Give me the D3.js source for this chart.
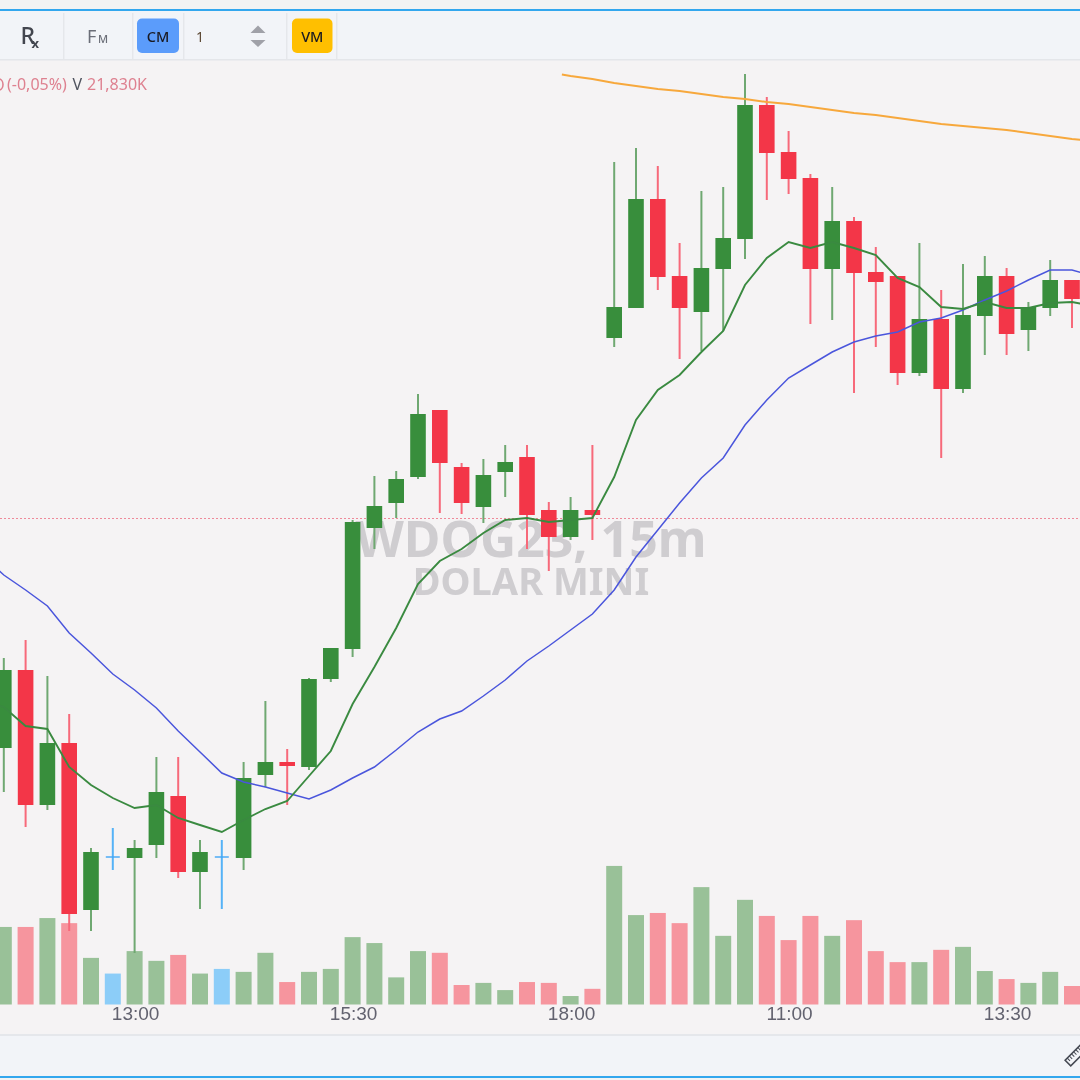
<!DOCTYPE html>
<html>
<head>
<meta charset="utf-8">
<title>WDOG23, 15m</title>
<script src="https://cdn.jsdelivr.net/npm/d3@7"></script>
<style>
  html, body { margin: 0; padding: 0; background: #f5f3f4; overflow: hidden; }
  svg { display: block; font-family: "Noto Sans", "Open Sans", sans-serif; filter: blur(0.45px); }
</style>
</head>
<body>
<div id="chart"></div>
<script>
// 15m bars, two sessions. First and last slot have no visible candle, the averages run through them off screen.
const times = [
  '11:15', '11:30', '11:45', '12:00', '12:15', '12:30', '12:45', '13:00', '13:15', '13:30', '13:45', '14:00', '14:15',
  '14:30', '14:45', '15:00', '15:15', '15:30', '15:45', '16:00', '16:15', '16:30', '16:45', '17:00', '17:15', '17:30',
  '17:45', '18:00', '18:15', '09:00', '09:15', '09:30', '09:45', '10:00', '10:15', '10:30', '10:45', '11:00', '11:15',
  '11:30', '11:45', '12:00', '12:15', '12:30', '12:45', '13:00', '13:15', '13:30', '13:45', '14:00', '14:15', '14:30'
];
const tickSlots = [7, 17, 27, 37, 47];

const opens = [5126, 5165, 5097.5, 5128.5, 5045, 5071.5, 5071, 5077.5, 5102, 5064, 5071.5, 5071, 5112.5, 5119, 5116.5, 5160.5, 5175.5, 5236, 5248.5, 5261.5, 5295, 5266.5, 5246.5, 5264, 5271.5, 5245, 5231.5, 5245, 5331, 5346, 5400.5, 5362, 5344, 5365.5, 5380.5, 5447.5, 5424, 5411, 5365.5, 5389.5, 5364, 5362, 5313.5, 5340.5, 5305.5, 5342, 5362, 5335, 5346, 5360];
const highs = [5171, 5180, 5162, 5143, 5076, 5086, 5080, 5121.5, 5121.5, 5080, 5080, 5119, 5149.5, 5125.5, 5161, 5176, 5240, 5262, 5264.5, 5303, 5295, 5268.5, 5270.5, 5277.5, 5277.5, 5249, 5251.5, 5277.5, 5419, 5426, 5417, 5378.5, 5404.5, 5406.5, 5463, 5451.5, 5434.5, 5413, 5406.5, 5391.5, 5376.5, 5362, 5378.5, 5355, 5368, 5372, 5366, 5349, 5370, 5360];
const lows = [5104, 5086.5, 5095, 5034.5, 5034.5, 5065, 5023.5, 5071, 5061, 5045.5, 5045.5, 5065, 5106.5, 5097.5, 5115, 5159, 5171.5, 5225.5, 5241, 5260.5, 5243.5, 5243, 5238.5, 5251.5, 5225.5, 5214.5, 5230, 5230, 5326.5, 5346, 5355, 5320.5, 5324.5, 5334.5, 5370.5, 5400, 5403, 5338, 5340, 5303.5, 5326.5, 5307.5, 5312, 5271, 5303.5, 5322.5, 5322.5, 5324.5, 5342, 5336];
const closes = [5165, 5097.5, 5128.5, 5043, 5074, 5071.5, 5076, 5104, 5064, 5074, 5071.5, 5111, 5119, 5117, 5160.5, 5176, 5239, 5247, 5260.5, 5293, 5268.5, 5248.5, 5262.5, 5269, 5242.5, 5231.5, 5245, 5242.5, 5346.5, 5400.5, 5361.5, 5346, 5366, 5381, 5447.5, 5423.5, 5410.5, 5365.5, 5389.5, 5363.5, 5359, 5313.5, 5340.5, 5305.5, 5342.5, 5362, 5333, 5346.5, 5360, 5350.5];
const volumes = [91.5, 91.5, 102, 96, 55, 36.5, 63, 51.5, 58.5, 36.5, 42, 38.5, 61, 26.5, 38.5, 42, 79.5, 72.5, 32, 63, 61, 23, 25.5, 17, 26.5, 25.5, 10, 18.5, 163.5, 105.5, 108, 96, 138.5, 81, 123.5, 104.5, 76, 104.5, 81, 99.5, 63, 50, 50, 64.5, 68, 39.5, 30, 25.5, 38.5, 21.83];

const maFast = [5150, 5146.5, 5137, 5135.5, 5116.5, 5107.5, 5101, 5096, 5097.5, 5091, 5087.5, 5084, 5090, 5095.5, 5099.5, 5112, 5124.5, 5148, 5166.5, 5186, 5208, 5219.5, 5225.5, 5233.5, 5240, 5241, 5239, 5240, 5241, 5261.5, 5290, 5305, 5312.5, 5324, 5334.5, 5357.5, 5371, 5379, 5376, 5379, 5376, 5372.5, 5361, 5356.5, 5346.5, 5345.5, 5349, 5346, 5346, 5348.5, 5349, 5347];
const maSlow = [5222.5, 5212.5, 5205, 5197, 5183.5, 5173.5, 5163, 5155, 5146, 5134.5, 5124, 5113.5, 5109, 5106.5, 5103.5, 5100.5, 5105, 5111, 5116.5, 5125, 5134, 5140.5, 5144.5, 5152, 5160, 5169.5, 5177, 5185, 5193, 5205, 5221.5, 5235, 5248.5, 5261, 5271, 5287.5, 5300, 5311, 5317.5, 5324, 5329, 5332, 5334, 5339, 5341, 5345, 5350, 5354.5, 5360, 5365, 5365, 5362];
// long average only starts in the second session, its first point falls between two slots
const maLongSlots = [26.6, 27, 28, 29, 30, 31, 32, 33, 34, 35, 36, 37, 38, 39, 40, 41, 42, 43, 44, 45, 46, 47, 48, 49, 50, 51];
const maLong = [5462.75, 5462, 5460.5, 5458.5, 5457, 5455.5, 5454.5, 5453, 5451.5, 5450.5, 5449, 5448, 5446.5, 5445, 5443.5, 5442.5, 5441, 5439.5, 5438, 5437, 5436, 5435, 5433.5, 5432, 5430.5, 5429.5];
const priceLine = 5240.75;

const statusChange = '(-0,05%)';
const statusVolume = '21,830K';
const watermark = ['WDOG23, 15m', 'DOLAR MINI'];

const W = 1080, H = 1080;
const candles = opens.map((o, i) => ({
  slot: i + 1, o, h: highs[i], l: lows[i], c: closes[i], v: volumes[i],
  dir: closes[i] > o ? 'up' : closes[i] < o ? 'down' : 'flat'
}));

const color = { up: '#388e3c', down: '#f33648', flat: '#42a5f5' };
const wickColor = { up: '#6fa871', down: '#f7697a', flat: '#55b2f7' };
const volColor = { up: '#99c198', down: '#f6959e', flat: '#8ccdf8' };

const x = d3.scaleLinear().domain([0, 51]).range([-18, 1093.8]);
const y = d3.scaleLinear().domain([5500, 4960]).range([0, 1080]);
const yVol = d3.scaleLinear().domain([0, 200]).range([1004.5, 835]);

const svg = d3.select('#chart').append('svg').attr('width', W).attr('height', H);
svg.append('rect').attr('width', W).attr('height', H).attr('fill', '#f5f3f4');

// watermark sits under everything
const wm = svg.append('g').attr('text-anchor', 'middle').attr('font-weight', 700).attr('fill', '#cfcdd0');
wm.append('text').attr('x', 531).attr('y', 557).attr('font-size', 50).text(watermark[0]);
wm.append('text').attr('x', 531).attr('y', 595).attr('font-size', 38).text(watermark[1]);

svg.append('line')
  .attr('x1', 0).attr('x2', W)
  .attr('y1', y(priceLine)).attr('y2', y(priceLine))
  .attr('stroke', '#ef8a9a').attr('stroke-width', 1).attr('stroke-dasharray', '2,2');

svg.append('g').selectAll('rect')
  .data(candles)
  .enter()
  .append('rect')
  .attr('x', d => x(d.slot) - 8)
  .attr('width', 16)
  .attr('y', d => yVol(d.v))
  .attr('height', d => yVol(0) - yVol(d.v))
  .attr('fill', d => volColor[d.dir]);

const axis = d3.axisBottom(x)
  .tickValues(tickSlots)
  .tickSize(0)
  .tickPadding(0)
  .tickFormat(i => times[i]);
const axisG = svg.append('g').attr('transform', 'translate(0.5,1003)').call(axis);
axisG.select('.domain').remove();
axisG.selectAll('text')
  .attr('y', 3)
  .attr('font-family', '"Liberation Sans", Arial, sans-serif')
  .attr('font-size', 19)
  .attr('fill', '#62626f');

const candleG = svg.append('g');
candleG.selectAll('line')
  .data(candles)
  .enter()
  .append('line')
  .attr('x1', d => x(d.slot)).attr('x2', d => x(d.slot))
  .attr('y1', d => y(d.h)).attr('y2', d => y(d.l))
  .attr('stroke', d => wickColor[d.dir])
  .attr('stroke-width', 2);

candleG.selectAll('rect.body')
  .data(candles)
  .enter()
  .append('rect')
  .attr('class', 'body')
  .attr('x', d => x(d.slot) - (d.dir === 'flat' ? 7 : 7.8))
  .attr('width', d => d.dir === 'flat' ? 14 : 15.6)
  .attr('y', d => y(Math.max(d.o, d.c)) - (d.dir === 'flat' ? 0.7 : 0))
  .attr('height', d => d.dir === 'flat' ? 1.4 : y(Math.min(d.o, d.c)) - y(Math.max(d.o, d.c)))
  .attr('fill', d => color[d.dir]);

const line = d3.line().x(d => x(d[0])).y(d => y(d[1]));
svg.append('path')
  .attr('d', line(maSlow.map((v, i) => [i, v])))
  .attr('fill', 'none').attr('stroke', '#4a55dc').attr('stroke-width', 1.5);
svg.append('path')
  .attr('d', line(maFast.map((v, i) => [i, v])))
  .attr('fill', 'none').attr('stroke', '#3a8a40').attr('stroke-width', 1.9);
svg.append('path')
  .attr('d', line(maLong.map((v, i) => [maLongSlots[i], v])))
  .attr('fill', 'none').attr('stroke', '#f7a83c').attr('stroke-width', 2);

// status line
const status = svg.append('text').attr('x', 7).attr('y', 90).attr('font-size', 16).attr('fill', '#de8190');
status.append('tspan').text(statusChange);
status.append('tspan').attr('x', 72.5).attr('fill', '#50545f').text('V');
status.append('tspan').attr('x', 87).text(statusVolume);
svg.append('path').attr('d', 'M-1,79 A4,5.5 0 0 1 -1,90').attr('fill', 'none').attr('stroke', '#de8190').attr('stroke-width', 1.6);

// top toolbar
svg.append('rect').attr('width', W).attr('height', 9).attr('fill', '#f3f3f3');
svg.append('rect').attr('y', 11).attr('width', W).attr('height', 48).attr('fill', '#f2f4f8');
svg.append('rect').attr('y', 9).attr('width', W).attr('height', 2).attr('fill', '#33a7ee');
svg.append('rect').attr('y', 59).attr('width', W).attr('height', 1.5).attr('fill', '#e4e6ea');
svg.append('g').selectAll('rect')
  .data([63, 132, 183, 286, 336])
  .enter()
  .append('rect')
  .attr('x', d => d).attr('y', 13).attr('width', 1.5).attr('height', 46).attr('fill', '#e5e7eb');

const tool = svg.append('g');
tool.append('text').attr('x', 20.5).attr('y', 44).attr('font-size', 23).attr('font-weight', 500).attr('fill', '#43464f').text('R');
tool.append('text').attr('x', 31.5).attr('y', 47.5).attr('font-size', 13).attr('font-weight', 700).attr('fill', '#43464f').text('x');
tool.append('text').attr('x', 87).attr('y', 43).attr('font-size', 18).attr('fill', '#6b6e78').text('F');
tool.append('text').attr('x', 98).attr('y', 43).attr('font-size', 11).attr('font-weight', 500).attr('fill', '#6b6e78').text('M');

const buttons = [
  { x: 137, w: 42, fill: '#5b9cfb', label: 'CM' },
  { x: 292, w: 40.5, fill: '#ffbf00', label: 'VM' }
];
buttons.forEach(b => {
  tool.append('rect').attr('x', b.x).attr('y', 18.5).attr('width', b.w).attr('height', 34.5).attr('rx', 5).attr('fill', b.fill);
  tool.append('text').attr('x', b.x + b.w / 2).attr('y', 41.5).attr('text-anchor', 'middle')
    .attr('font-size', 14.5).attr('font-weight', 500).attr('fill', '#1a1a22').text(b.label);
});
tool.append('text').attr('x', 196).attr('y', 41.5).attr('font-size', 14).attr('fill', '#5a4632').text('1');
tool.append('path').attr('d', 'M250.5,33 L258,25.5 L265.5,33 Z').attr('fill', '#a0a1a8');
tool.append('path').attr('d', 'M250.5,40 L258,47 L265.5,40 Z').attr('fill', '#a0a1a8');

// bottom bar
svg.append('rect').attr('y', 1034).attr('width', W).attr('height', 42).attr('fill', '#f2f4f8');
svg.append('rect').attr('y', 1034).attr('width', W).attr('height', 2).attr('fill', '#e5e7eb');
svg.append('rect').attr('y', 1076).attr('width', W).attr('height', 2).attr('fill', '#33a7ee');
svg.append('rect').attr('y', 1078).attr('width', W).attr('height', 2).attr('fill', '#f3f3f3');

const ruler = svg.append('g').attr('transform', 'translate(1075,1056) rotate(-45)');
ruler.append('rect').attr('x', -10).attr('y', -4).attr('width', 24).attr('height', 8).attr('fill', 'none').attr('stroke', '#444852').attr('stroke-width', 1.5);
ruler.selectAll('line')
  .data(d3.range(-7, 14, 3))
  .enter()
  .append('line')
  .attr('x1', d => d).attr('x2', d => d)
  .attr('y1', -4).attr('y2', 0)
  .attr('stroke', '#444852').attr('stroke-width', 1);
</script>
</body>
</html>
